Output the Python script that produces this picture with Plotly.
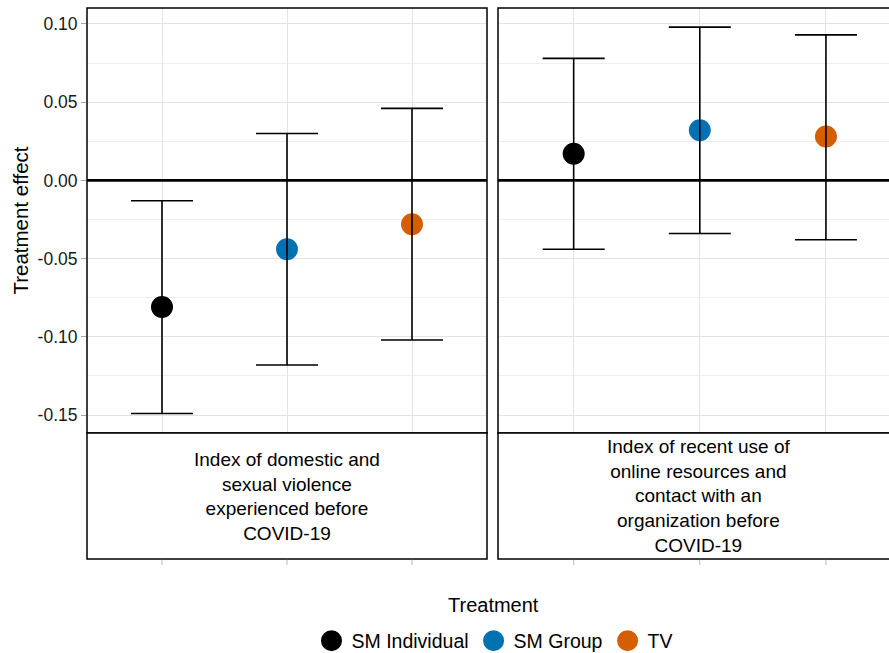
import plotly.graph_objects as go

# ---------------- data ----------------
treatments = ["SM Individual", "SM Group", "TV"]
colors = ["#000000", "#0072B2", "#D55E00"]

panel_labels = [
    "Index of domestic and<br>sexual violence<br>experienced before<br>COVID-19",
    "Index of recent use of<br>online resources and<br>contact with an<br>organization before<br>COVID-19",
]

est_violence = [-0.081, -0.044, -0.028]
lo_violence = [-0.149, -0.118, -0.102]
hi_violence = [-0.013, 0.030, 0.046]

est_online = [0.017, 0.032, 0.028]
lo_online = [-0.044, -0.034, -0.038]
hi_online = [0.078, 0.098, 0.093]

y_tick_vals = [-0.15, -0.10, -0.05, 0.00, 0.05, 0.10]
y_tick_text = ["-0.15", "-0.10", "-0.05", "0.00", "0.05", "0.10"]

legend_title = "Treatment"
y_title = "Treatment effect"

panels = [
    (est_violence, lo_violence, hi_violence),
    (est_online, lo_online, hi_online),
]

FONT = "Liberation Sans, Arial, sans-serif"

fig = go.Figure()

axes = [("x", "y"), ("x2", "y2")]

# points
for p, (est, lo, hi) in enumerate(panels):
    xa, ya = axes[p]
    for i, t in enumerate(treatments):
        fig.add_trace(go.Scatter(
            x=[t], y=[est[i]], mode="markers",
            marker=dict(color=colors[i], size=17, line=dict(width=5, color=colors[i])),
            name=t, legendgroup=t, showlegend=(p == 0),
            xaxis=xa, yaxis=ya, hoverinfo="skip",
        ))

# error bars drawn on top of the points
for p, (est, lo, hi) in enumerate(panels):
    xa, ya = axes[p]
    fig.add_trace(go.Scatter(
        x=treatments, y=est, mode="markers",
        marker=dict(color="rgba(0,0,0,0)", size=1),
        error_y=dict(type="data", symmetric=False,
                     array=[h - e for h, e in zip(hi, est)],
                     arrayminus=[e - l for e, l in zip(est, lo)],
                     color="black", thickness=1.6, width=31),
        showlegend=False, xaxis=xa, yaxis=ya, hoverinfo="skip",
    ))

W, H = 889, 653
ml, mr, mt, mb = 87, 0, 8, 220
pw = W - ml - mr
ph = H - mt - mb

left_dom = [0, 400 / pw]
right_dom = [411 / pw, 1.0]

yrange = [-0.1615, 0.1102]

xcommon = dict(type="category", categoryorder="array", categoryarray=treatments,
               showticklabels=False, ticks="", showline=False, zeroline=False,
               showgrid=True, gridcolor="#e3e3e3", gridwidth=1)
ycommon = dict(range=yrange, tickvals=y_tick_vals, ticktext=y_tick_text,
               showgrid=True, gridcolor="#e3e3e3", gridwidth=1, zeroline=False,
               showline=False,
               minor=dict(dtick=0.025, tick0=0, showgrid=True, gridcolor="#eeeeee", gridwidth=0.8))

fig.update_layout(
    width=W, height=H,
    margin=dict(l=ml, r=mr, t=mt, b=mb, autoexpand=False),
    paper_bgcolor="white", plot_bgcolor="white",
    font=dict(family=FONT, size=18, color="black"),
    xaxis=dict(domain=left_dom, range=[-0.6, 2.6], anchor="y", **xcommon),
    xaxis2=dict(domain=right_dom, range=[-0.6, 2.5], anchor="y2", **xcommon),
    yaxis=dict(domain=[0, 1], anchor="x", ticks="outside", ticklen=5, tickwidth=1,
               tickcolor="#a8a8a8", tickfont=dict(size=17.5, color="#1a1a1a"),
               title=dict(text=y_title, font=dict(size=20.5, color="black"), standoff=3),
               **ycommon),
    yaxis2=dict(domain=[0, 1], anchor="x2", matches="y", showticklabels=False, ticks="",
                **ycommon),
    legend=dict(orientation="h", x=(495 - 87) / pw, xanchor="center",
                y=-(641 - 433) / ph, yanchor="middle",
                font=dict(size=19.5, color="black"), itemsizing="trace", traceorder="normal"),
    showlegend=True,
)

strip_h = 126 / ph
tick_len = 6 / ph
shapes = []
for p, (xa, ya) in enumerate(axes):
    x1 = 1 if p == 0 else 1.3
    # zero line
    shapes.append(dict(type="line", xref=f"{xa} domain", yref=ya, x0=0, x1=x1, y0=0, y1=0,
                       line=dict(color="black", width=2.6), layer="above"))
    # panel border
    shapes.append(dict(type="rect", xref=f"{xa} domain", yref=f"{ya} domain",
                       x0=0, x1=x1, y0=0, y1=1,
                       line=dict(color="black", width=1.5), fillcolor="rgba(0,0,0,0)", layer="above"))
    # strip
    shapes.append(dict(type="rect", xref=f"{xa} domain", yref="paper",
                       x0=0, x1=x1, y0=-strip_h, y1=0,
                       line=dict(color="black", width=1.5), fillcolor="white", layer="above"))
    # x ticks below strip
    for t in treatments:
        shapes.append(dict(type="line", xref=xa, yref="paper", x0=t, x1=t,
                           y0=-strip_h - 0.002, y1=-strip_h - tick_len,
                           line=dict(color="#bbbbbb", width=1)))

annotations = []
for p, (xa, ya) in enumerate(axes):
    annotations.append(dict(text=panel_labels[p], xref="x" + ("" if p == 0 else "2") + " domain",
                            yref="paper", x=0.5 if p == 0 else 0.5 * 400 / 391, y=-strip_h / 2,
                            xanchor="center", yanchor="middle", showarrow=False,
                            font=dict(size=19, color="black")))
# legend title
annotations.append(dict(text=legend_title, xref="paper", yref="paper",
                        x=(493 - 87) / pw, y=-(605 - 433) / ph,
                        xanchor="center", yanchor="middle", showarrow=False,
                        font=dict(size=20, color="black")))

fig.update_layout(shapes=shapes, annotations=annotations)

fig.write_html("out.html", config={"displayModeBar": False},
               post_script="document.body.style.margin='0';document.body.style.overflow='hidden';")
